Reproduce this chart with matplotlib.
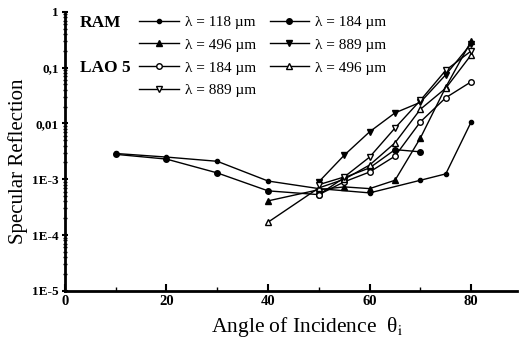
import matplotlib
matplotlib.use("Agg")
import matplotlib.pyplot as plt
from matplotlib.lines import Line2D
from matplotlib.ticker import FixedLocator, LogLocator, NullFormatter

# --- data ---
ram_118_x = [10, 20, 30, 40, 50, 60, 70, 75, 80]
ram_118_y = [2.9e-3, 2.5e-3, 2.1e-3, 9.3e-4, 6.8e-4, 5.7e-4, 9.6e-4, 1.25e-3, 1.07e-2]

ram_184_x = [10, 20, 30, 40, 50, 55, 60, 65, 70]
ram_184_y = [2.8e-3, 2.3e-3, 1.3e-3, 6.2e-4, 5.3e-4, 1.07e-3, 1.6e-3, 3.4e-3, 3.1e-3]

ram_496_x = [40, 50, 55, 60, 65, 70, 75, 80]
ram_496_y = [4.1e-4, 6.5e-4, 7.3e-4, 6.8e-4, 9.6e-4, 5.5e-3, 4.5e-2, 0.3]

ram_889_x = [50, 55, 60, 65, 70, 75, 80]
ram_889_y = [9.0e-4, 2.7e-3, 7.1e-3, 1.55e-2, 2.4e-2, 7.5e-2, 0.27]

lao_184_x = [50, 55, 60, 65, 70, 75, 80]
lao_184_y = [5.3e-4, 9.0e-4, 1.35e-3, 2.6e-3, 1.07e-2, 2.9e-2, 5.6e-2]

lao_496_x = [40, 50, 55, 60, 65, 70, 75, 80]
lao_496_y = [1.7e-4, 7.0e-4, 1.0e-3, 1.8e-3, 4.5e-3, 1.8e-2, 4.3e-2, 0.17]

lao_889_x = [50, 55, 60, 65, 70, 75, 80]
lao_889_y = [8.0e-4, 1.1e-3, 2.5e-3, 8.3e-3, 2.6e-2, 9.0e-2, 0.2]

y_ticks = [1e-5, 1e-4, 1e-3, 1e-2, 1e-1, 1]
y_tick_labels = ["1E-5", "1E-4", "1E-3", "0,01", "0,1", "1"]
x_ticks = [0, 20, 40, 60, 80]

plt.rcParams["font.family"] = ["Liberation Serif", "DejaVu Serif"]
plt.rcParams["mathtext.fontset"] = "stix"

fig = plt.figure(figsize=(5.19, 3.5), dpi=100)
ax = fig.add_axes([0.125, 0.169, 0.871, 0.797])

style = dict(color="black", linewidth=1.0, markersize=4)
h1, = ax.plot(ram_118_x, ram_118_y, marker="o", markersize=3, color="black", linewidth=1.0,
              label="λ = 118 µm")
h2, = ax.plot(ram_184_x, ram_184_y, marker="o", label="λ = 184 µm", **style)
h3, = ax.plot(ram_496_x, ram_496_y, marker="^", label="λ = 496 µm", **style)
h4, = ax.plot(ram_889_x, ram_889_y, marker="v", label="λ = 889 µm", **style)
h5, = ax.plot(lao_184_x, lao_184_y, marker="o", markerfacecolor="white",
              label="λ = 184 µm", **style)
h6, = ax.plot(lao_496_x, lao_496_y, marker="^", markerfacecolor="white",
              label="λ = 496 µm", **style)
h7, = ax.plot(lao_889_x, lao_889_y, marker="v", markerfacecolor="white",
              label="λ = 889 µm", **style)

blank = Line2D([], [], color="none", label=" ")

ax.set_yscale("log")
ax.set_ylim(1e-5, 1)
ax.set_xlim(0, 89)

ax.yaxis.set_major_locator(FixedLocator(y_ticks))
ax.set_yticklabels(y_tick_labels, fontweight="bold", fontsize=9.5)
ax.yaxis.set_minor_locator(LogLocator(base=10, subs=range(2, 10)))
ax.yaxis.set_minor_formatter(NullFormatter())

ax.set_xticks(x_ticks)
ax.set_xticklabels([str(v) for v in x_ticks], fontweight="bold", fontsize=10.5)
ax.set_xticks([10, 30, 50, 70], minor=True)

ax.tick_params(axis="y", which="major", direction="inout", length=5, width=1.5, pad=2)
ax.tick_params(axis="y", which="minor", direction="inout", length=3, width=1)
ax.tick_params(axis="x", which="major", direction="in", length=5, width=1.5, pad=3)
ax.tick_params(axis="x", which="minor", direction="in", length=3, width=1)

for side in ["top", "right"]:
    ax.spines[side].set_visible(False)
ax.spines["left"].set_linewidth(2)
ax.spines["bottom"].set_linewidth(2)

ax.set_xlabel(r"Angle of Incidence  θ$_{\mathrm{i}}$", fontsize=15.5, labelpad=5)
ax.set_ylabel("Specular Reflection", fontsize=15, labelpad=3)
ax.xaxis.label.set_x(0.535)
ax.yaxis.label.set_y(0.465)

leg = ax.legend(
    handles=[h1, h3, h5, h7, h2, h4, h6, blank],
    ncol=2, loc="upper left", bbox_to_anchor=(0.15, 1.01),
    frameon=False, fontsize=11, handlelength=2.6, handletextpad=0.4,
    columnspacing=0.9, labelspacing=0.6, borderaxespad=0,
)

ax.text(0.033, 0.962, "RAM", transform=ax.transAxes, fontsize=12.5,
        fontweight="bold", va="center")
ax.text(0.033, 0.80, "LAO 5", transform=ax.transAxes, fontsize=12.5,
        fontweight="bold", va="center")

fig.savefig("out.png", dpi=100)
